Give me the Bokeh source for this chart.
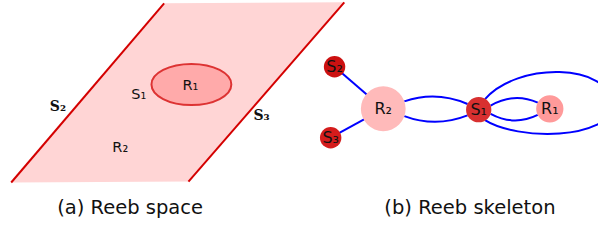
import numpy as np
from bokeh.plotting import figure
from bokeh.models import Range1d
from bokeh.embed import file_html
from bokeh.resources import INLINE
from bokeh.core.properties import value

# ---------------- data ----------------
# (a) Reeb space: parallelogram sheet (corners), hole, labels
sheet_x = [168, 353, 193, 11]
sheet_y = [3, 2, 194, 195]
hole_x, hole_y, hole_w, hole_h = 196, 90, 82, 44
space_labels = ["S\u2081", "R\u2081", "R\u2082"]
space_lab_x = [142, 195, 123]
space_lab_y = [100, 90, 157]
bound_labels = ["S\u2082", "S\u2083"]
bound_lab_x = [59, 268]
bound_lab_y = [113, 123]

# (b) Reeb skeleton: nodes
node_names = ["S\u2082", "S\u2083", "R\u2082", "S\u2081", "R\u2081"]
node_x = [343, 339, 393, 491, 564]
node_y = [71, 147, 116, 117, 116]
node_r = [11, 11, 23, 13, 14]
node_col = ["#cc1111", "#d41c1c", "#ffbaba", "#d83030", "#ff9a9a"]
single_edges = [(0, 2), (1, 2)]
double_edges = [(2, 3), (3, 4)]
loop_node = 3

captions = ["(a) Reeb space", "(b) Reeb skeleton"]
caption_x = [133, 482]
caption_y = [222, 222]

# ---------------- figure ----------------
p = figure(width=598, height=224, output_backend="svg", toolbar_location=None,
           x_range=Range1d(0, 614), y_range=Range1d(240, 0),
           x_axis_location=None, y_axis_location=None, min_border=0)
p.grid.visible = False
p.outline_line_color = None
p.background_fill_color = "white"

# Reeb space sheet
p.patch(sheet_x, sheet_y, fill_color="#ffd5d5", line_color=None)
p.segment(x0=[sheet_x[3], sheet_x[1]], y0=[sheet_y[3], sheet_y[1]],
          x1=[sheet_x[0], sheet_x[2]], y1=[sheet_y[0], sheet_y[2]],
          line_color="#d40000", line_width=2)
p.ellipse(x=[hole_x], y=[hole_y], width=[hole_w], height=[hole_h],
          fill_color="#ffaaaa", line_color="#dd3333", line_width=2)
p.text(x=space_lab_x, y=space_lab_y, text=space_labels,
       text_font=value("DejaVu Sans"), text_font_size="14.5px",
       text_align="center", text_baseline="middle", text_color="#111111")
p.text(x=bound_lab_x, y=bound_lab_y, text=bound_labels,
       text_font=value("DejaVu Serif"), text_font_style="bold", text_font_size="14px",
       text_align="center", text_baseline="middle", text_color="#111111")

# Reeb skeleton edges
X, Y, R = node_x, node_y, node_r
blue = "#0000ff"
p.segment(x0=[X[a] for a, b in single_edges], y0=[Y[a] for a, b in single_edges],
          x1=[X[b] for a, b in single_edges], y1=[Y[b] for a, b in single_edges],
          line_color=blue, line_width=2)

ang_a, ang_b, bulge = np.radians(20), np.radians(28), 13
qx0, qy0, qx1, qy1, qcx, qcy = [], [], [], [], [], []
for a, b in double_edges:
    for s in (-1, 1):
        x0 = X[a] + R[a] * np.cos(ang_a); y0 = Y[a] + s * R[a] * np.sin(ang_a)
        x1 = X[b] - R[b] * np.cos(ang_b); y1 = Y[b] + s * R[b] * np.sin(ang_b)
        qx0.append(x0); qy0.append(y0); qx1.append(x1); qy1.append(y1)
        qcx.append((x0 + x1) / 2); qcy.append((y0 + y1) / 2 + s * bulge)
p.quadratic(x0=qx0, y0=qy0, x1=qx1, y1=qy1, cx=qcx, cy=qcy, line_color=blue, line_width=2)

# self loop of S1 (two cubic halves)
n = loop_node
reach, near, top, bot, mid = 138, 39, -51, 33, -5
ang = np.radians(60)
lx0 = [X[n] + R[n] * np.cos(ang)] * 2
ly0 = [Y[n] - R[n] * np.sin(ang), Y[n] + R[n] * np.sin(ang)]
lx1 = [X[n] + reach] * 2
ly1 = [Y[n] + mid] * 2
lcx0 = [X[n] + near] * 2
lcy0 = [Y[n] + top, Y[n] + bot]
lcx1 = [X[n] + reach - 4] * 2
lcy1 = [Y[n] + top, Y[n] + bot]
p.bezier(x0=lx0, y0=ly0, x1=lx1, y1=ly1, cx0=lcx0, cy0=lcy0, cx1=lcx1, cy1=lcy1,
         line_color=blue, line_width=2)

# nodes
p.circle(x=X, y=Y, radius=R, fill_color=node_col, line_color=None)
p.text(x=X, y=Y, text=node_names, text_font=value("DejaVu Sans"), text_font_size="16px",
       text_align="center", text_baseline="middle", text_color="#111111")

# captions
p.text(x=caption_x, y=caption_y, text=captions, text_font=value("DejaVu Sans"),
       text_font_size="19.5px", text_align="center", text_baseline="middle",
       text_color="#111111")

open("out.html", "w").write(file_html(p, INLINE))
